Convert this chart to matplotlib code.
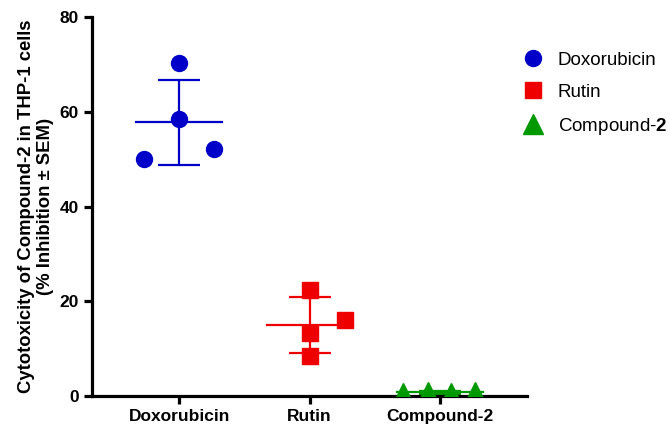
import numpy as np
import matplotlib.pyplot as plt

plt.rcParams['font.family'] = ['Liberation Sans', 'DejaVu Sans']
plt.rcParams['mathtext.fontset'] = 'custom'
plt.rcParams['mathtext.rm'] = 'Liberation Sans'
plt.rcParams['mathtext.bf'] = 'Liberation Sans:bold'

# ---- data ----
groups = ['Doxorubicin', 'Rutin', 'Compound-2']
legend_names = ['Doxorubicin', 'Rutin', 'Compound-$\\mathbf{2}$']
dox_vals = [50.0, 70.4, 58.4, 52.1]
rutin_vals = [8.4, 22.4, 13.3, 16.0]
comp_vals = [0.6, 0.9, 0.7, 0.9]
means = [57.8, 15.0, 0.8]
errs = [9.0, 5.9, 0.3]
yticks = [0, 20, 40, 60, 80]

# horizontal scatter offsets of the points (category units)
dox_off = [-0.27, 0.0, 0.0, 0.27]
rutin_off = [0.0, 0.0, 0.0, 0.27]
comp_off = [-0.28, -0.09, 0.085, 0.27]

colors = ['#0000c8', '#ee0000', '#009a00']
markers = ['o', 's', '^']
sizes = [11.5, 12, 14]

fig = plt.figure(figsize=(6.7, 4.29), dpi=100)
ax = fig.add_axes([0.137, 0.077, 0.650, 0.883])

all_vals = [dox_vals, rutin_vals, comp_vals]
all_off = [dox_off, rutin_off, comp_off]
for i, (vals, off) in enumerate(zip(all_vals, all_off)):
   xs = i + np.array(off)
   ax.plot(xs, vals, linestyle='none', marker=markers[i], color=colors[i],
           markersize=sizes[i], label=legend_names[i], zorder=3)
   # mean line + error bar
   ax.plot([i - 0.33, i + 0.33], [means[i], means[i]], color=colors[i], lw=1.6, zorder=2)
   ax.errorbar(i, means[i], yerr=errs[i], color=colors[i], lw=1.6,
               capsize=15, capthick=1.6, fmt='none', zorder=2)

ax.set_xlim(-0.67, 2.67)
ax.set_ylim(0, 80)
ax.set_xticks(range(len(groups)))
ax.set_xticklabels(groups, fontweight='bold', fontsize=12.5)
ax.set_yticks(yticks)
ax.set_yticklabels([str(t) for t in yticks], fontweight='bold', fontsize=12.5)
ax.set_ylabel('Cytotoxicity of Compound-2 in THP-1 cells\n(% Inhibition ± SEM)',
              fontweight='bold', fontsize=13.3, labelpad=4, linespacing=1.1)

for side in ['top', 'right']:
   ax.spines[side].set_visible(False)
for side in ['left', 'bottom']:
   ax.spines[side].set_linewidth(2.3)
ax.tick_params(width=2.3, length=6, direction='out')

leg = fig.legend(*ax.get_legend_handles_labels(), loc='upper left',
                 bbox_to_anchor=(0.782, 0.880), frameon=False, fontsize=13.5,
                 handlelength=1.0, handletextpad=0.8, labelspacing=0.8,
                 borderaxespad=0, borderpad=0)

fig.savefig('out.png', dpi=100)
